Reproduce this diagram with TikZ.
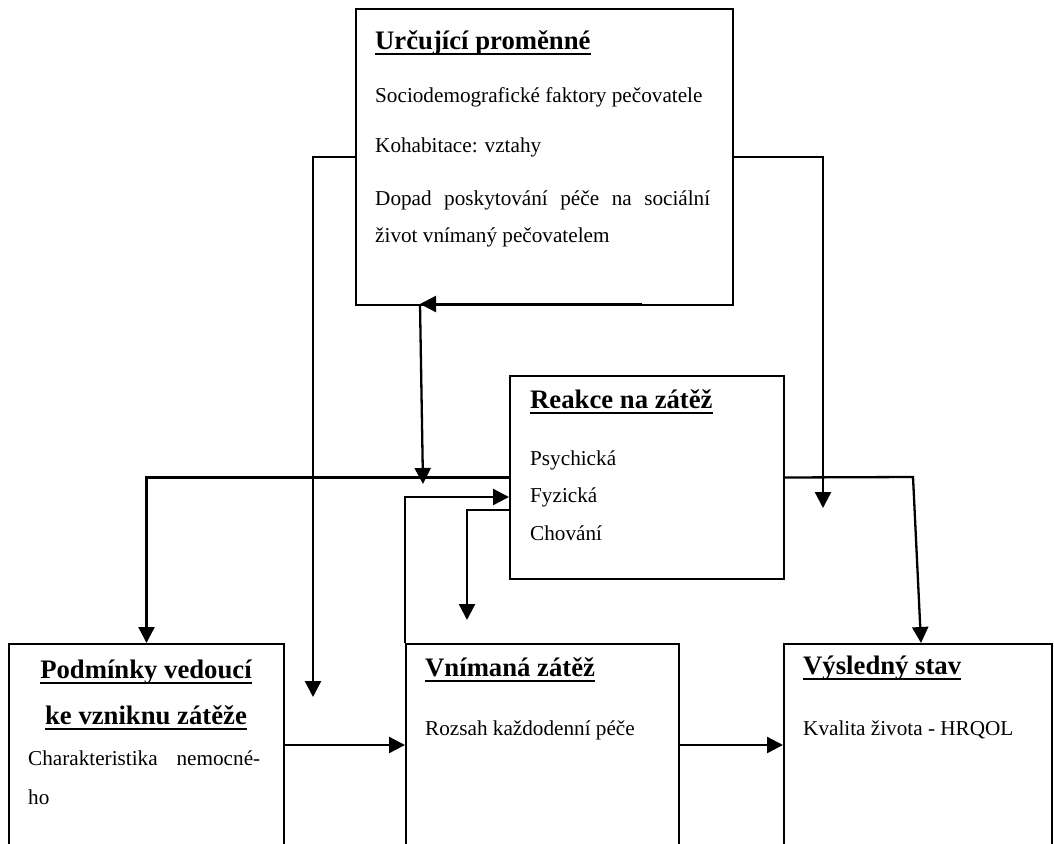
\documentclass[tikz,border=0pt]{standalone}
\usepackage{fontspec}
\setmainfont{Liberation Serif}
\usetikzlibrary{arrows.meta}

\newsavebox{\ttlbox}
\newcommand{\ttl}[1]{{\fontsize{26.7}{30}\selectfont\bfseries
  \sbox{\ttlbox}{#1}\rlap{\rule[-6pt]{\wd\ttlbox}{2.2pt}}\usebox{\ttlbox}}}

\tikzset{
  box/.style={draw, line width=2pt, anchor=north west, inner sep=0pt},
  txt/.style={anchor=west, inner sep=0pt, font=\fontsize{21.2}{25}\selectfont},
  conn/.style={line width=2.3pt},
  arr/.style={conn, -{Triangle[length=16pt,width=16pt]}}
}

\begin{document}
\begin{tikzpicture}[x=1pt,y=-1pt]
        \useasboundingbox (0,0) rectangle (1054,843);
        \clip (0,0) rectangle (1054,843);

        % Boxes
        \node[box, minimum width=377pt, minimum height=296pt] (urc) at (355,8) {};
        \node[box, minimum width=274pt, minimum height=203pt] (reakce) at (509,375) {};
        \node[box, minimum width=275pt, minimum height=260pt] (podm) at (8,643) {};
        \node[box, minimum width=273pt, minimum height=260pt] (vnim) at (405,643) {};
        \node[box, minimum width=268pt, minimum height=260pt] (vysl) at (783,643) {};

        % Texts
        \node[txt] (urcT) at (375,43) {\ttl{Určující proměnné}};
        \node[txt] (urc1) at (375,97) {Sociodemografické faktory pečovatele};
        \node[txt] (urc2) at (375,147) {Kohabitace: vztahy};
        \node[txt] (urc3) at (375,200) {\makebox[335pt][s]{Dopad poskytování péče na sociální}};
        \node[txt] (urc4) at (375,237) {život vnímaný pečovatelem};

        \node[txt] (reakceT) at (530,402) {\ttl{Reakce na zátěž}};
        \node[txt] (psy) at (530,460) {Psychická};
        \node[txt] (fyz) at (530,497) {Fyzická};
        \node[txt] (chov) at (530,533) {Chování};

        \node[txt, anchor=center] (podmT1) at (146,672) {\ttl{Podmínky vedoucí}};
        \node[txt, anchor=center] (podmT2) at (146,718) {\ttl{ke vzniknu zátěže}};
        \node[txt] (podm1) at (28,758) {\makebox[232pt][s]{Charakteristika nemocné-}};
        \node[txt] (podm2) at (28,797) {ho};

        \node[txt] (vnimT) at (425,670) {\ttl{Vnímaná zátěž}};
        \node[txt] (vnim1) at (425,730) {Rozsah každodenní péče};

        \node[txt] (vyslT) at (803,668) {\ttl{Výsledný stav}};
        \node[txt] (vysl1) at (803,730) {Kvalita života - HRQOL};

        % Free ends
        \coordinate (endL) at (313,697);
        \coordinate (endR) at (823,508);
        \coordinate (endM) at (423,484);
        \coordinate (endB) at (467,620);
        \coordinate (bot) at (642,304);
        \coordinate (botT) at (420,304);
        \coordinate (bend) at (913,477);
        \coordinate (chov0) at (509,510);

        % Connectors
        \draw[arr] (urc.west) -| (endL);
        \draw[arr] (urc.east) -| (endR);
        \draw[arr] (bot) -- (botT);
        \draw[arr] (botT) -- (endM);
        \draw[arr] (reakce.west) -| (podm.north);
        \draw[arr] (reakce.east) -- (bend) -- ([xshift=3pt]vysl.north);
        \draw[arr] (vnim.north west) |- (reakce.west |- fyz);
        \draw[arr] (chov0) -| (endB);
        \draw[arr] (podm.north east |- 0,745) -- (vnim.north west |- 0,745);
        \draw[arr] (vnim.north east |- 0,745) -- (vysl.north west |- 0,745);

\end{tikzpicture}
\end{document}
